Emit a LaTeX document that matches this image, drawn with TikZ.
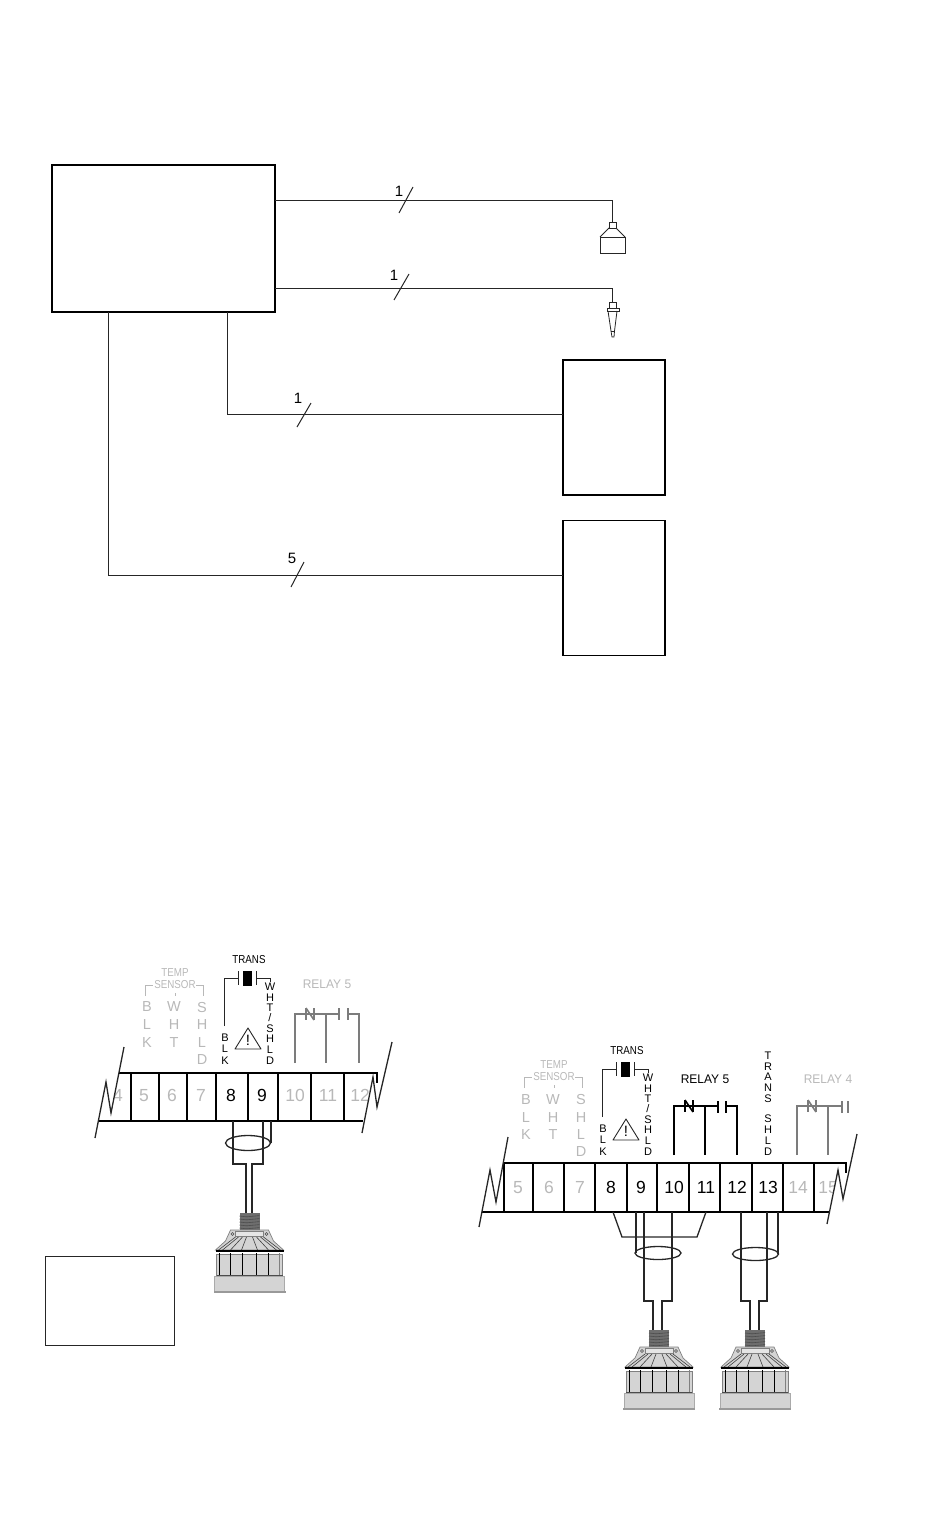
\documentclass[tikz,border=0pt]{standalone}
\usepackage{fontspec}
\setmainfont{Liberation Sans}
\definecolor{wirecol}{HTML}{262626}
\definecolor{fadetext}{HTML}{B8B8B8}
\definecolor{relaygray}{HTML}{7C7C7C}
\definecolor{headfill}{HTML}{D4D4D4}
\definecolor{threadfill}{HTML}{6E6E6E}
\tikzset{
    wire/.style={draw=wirecol, line width=1.0pt},
    lead/.style={draw=wirecol, line width=1.3pt},
    stripline/.style={draw=black, line width=1.6pt},
    mainbox/.style={draw=black, line width=2pt, minimum width=223pt, minimum height=147pt, inner sep=0pt},
    outbox/.style={draw=black, line width=1.6pt, minimum width=102pt, minimum height=135pt, inner sep=0pt},
    capbox/.style={draw=wirecol, line width=0.8pt, minimum width=7pt, minimum height=6pt, inner sep=0pt},
    countlabel/.style={inner sep=0pt, font=\fontsize{15}{15}\selectfont},
    digit/.style={inner sep=0pt, text height=12.6pt, text depth=0pt, font=\fontsize{17.5}{17.5}\selectfont},
    bigletter/.style={inner sep=0pt, text=fadetext, font=\fontsize{14.5}{14.5}\selectfont},
    smallletter/.style={inner sep=0pt, font=\fontsize{11}{11}\selectfont},
    headlabel/.style={inner sep=0pt, xscale=0.96, font=\fontsize{12.5}{12.5}\selectfont},
    tinylabel/.style={inner sep=0pt, xscale=0.85, font=\fontsize{11.5}{11.5}\selectfont},
    pics/tempgroup/.style={code={
        \node[tinylabel, text=fadetext] (title) at (0, 0) {TEMP};
        \node[tinylabel, text=fadetext] (sensor) at (0, 12) {SENSOR};
        \draw[fadetext, line width=0.8pt] (-30, 23) -- (-30, 12) -- (-22, 12);
        \draw[fadetext, line width=0.8pt] (21, 12) -- (28, 12) -- (28, 23);
        \draw[fadetext, line width=0.8pt] (0, 20) -- (0, 23);
        \foreach \ch/\yy in {B/34, L/52, K/69}
            \node[bigletter] (a\ch) at (-28, \yy) {\ch};
        \foreach \ch/\yy in {W/34, H/52, T/69}
            \node[bigletter] (b\ch) at (-1, \yy) {\ch};
        \foreach \ch/\yy in {S/34, H/52, L/69, D/86}
            \node[bigletter] (c\ch) at (27, \yy) {\ch};
    }},
    pics/transgroup/.style={code={
        \node[tinylabel] (title) at (0, -18) {TRANS};
        \draw[wirecol, line width=0.9pt] (-25, 48) -- (-25, 0) -- (-11, 0);
        \draw[wirecol, line width=0.9pt] (7, 0) -- (21, 0) -- (21, 4);
        \draw[wirecol, line width=0.9pt] (-11, -7) -- (-11, 7);
        \draw[wirecol, line width=0.9pt] (7, -7) -- (7, 7);
        \fill[black] (-6, -7.5) rectangle (3, 7.5);
        \foreach \ch/\yy in {B/60, L/71, K/83}
            \node[smallletter] (a\ch) at (-24, \yy) {\ch};
        \foreach \ch/\yy in {W/9, H/20, T/30, S/51, H/61, L/72, D/83}
            \node[smallletter] (b\yy) at (21, \yy) {\ch};
        \node[smallletter] (slash) at (21, 40) {/};
        % Warning sign
        \draw[wirecol, line width=0.9pt, line join=round] (-1, 50) -- (-14, 71) -- (12, 71) -- cycle;
        \node[inner sep=0pt, font=\fontsize{15}{15}\selectfont] (mark) at (-1, 62) {!};
    }},
    pics/relayfront/.style={code={
        \draw[line width=2pt] (0, 49) -- (0, 0) -- (44, 0);
        \draw[line width=2pt] (31, 0) -- (31, 49);
        \draw[line width=1.6pt] (11, -6) -- (11, 6) (19, -6) -- (19, 6);
        \draw[line width=1.6pt] (11, -6) -- (19, 6);
    }},
    pics/sensorhead/.style={code={
        % Thread
        \fill[threadfill] (-10, 0) rectangle (10, 17);
        \foreach \yy in {3, 6, 9, 12, 15}
            \draw[black!70, line width=0.6pt] (-10, \yy) -- (-3, \yy+0.8) -- (10, \yy-0.4);
        % Horn
        \draw[fill=headfill, draw=gray, line width=0.7pt] (-19, 17) -- (19, 17) -- (24, 28) -- (34, 37) -- (-34, 37) -- (-24, 28) -- cycle;
        \draw[fill=headfill!60, draw=gray, line width=0.6pt] (-14, 18) rectangle (14, 23);
        \foreach \xa/\xb in {-14/-31, -11/-27, -7/-19, -3/-8, 3/8, 7/19, 11/27, 14/31}
            \draw[black!75, line width=0.6pt] (\xa, 24) -- (\xb, 37);
        \draw[draw=black!70, line width=0.5pt] (-17, 21) circle (1.5);
        \draw[draw=black!70, line width=0.5pt] (17, 21) circle (1.5);
        % Body and ribs
        \draw[fill=headfill, draw=gray, line width=0.6pt] (-33, 41) rectangle (33, 62);
        \foreach \xx in {-30, -19, -7, 7, 19}
            \draw[black, line width=0.9pt] (\xx, 40) -- (\xx, 62);
        \draw[gray, line width=0.6pt] (30, 40) -- (30, 62);
        \draw[fill=headfill, draw=headfill!80!black, line width=0.5pt] (-35, 63) rectangle (35, 78);
        \draw[black!70, line width=0.7pt] (-33, 62.5) -- (33, 62.5);
        \fill[black!40] (-36, 78) rectangle (36, 79.5);
        % Plate over the body
        \draw[black, line width=2pt] (-34, 38) -- (34, 38);
    }},
}
\begin{document}
\begin{tikzpicture}[x=1pt, y=-1pt]
    \useasboundingbox (0, 0) rectangle (950, 1525);

    % Block diagram at the top
    \node[mainbox] (controller) at (163.5, 238.5) {};
    \node[outbox] (upperunit) at (614, 427.5) {};
    \node[outbox] (lowerunit) at (614, 588) {};

    \coordinate (taphorn) at (275, 201);
    \coordinate (tapprobe) at (275, 288);
    \coordinate (tapupper) at (227, 312);
    \coordinate (taplower) at (108, 312);
    \coordinate (upperin) at (563, 414);
    \coordinate (lowerin) at (563, 575);

    \node[capbox] (horncap) at (612.5, 225) {};
    \node[capbox] (probecap) at (612.5, 305) {};

    \draw[wire] (taphorn) -| (horncap.north);
    \draw[wire] (tapprobe) -| (probecap.north);
    \draw[wire] (tapupper) |- (upperin);
    \draw[wire] (taplower) |- (lowerin);

    % Slashes and wire counts
    \draw[wire] (399, 213) -- (413, 187);
    \draw[wire] (394, 300) -- (409, 274);
    \draw[wire] (297, 427) -- (311, 403);
    \draw[wire] (291, 587) -- (304, 562);
    \node[countlabel] (counthorn) at (399, 191) {1};
    \node[countlabel] (countprobe) at (394, 275) {1};
    \node[countlabel] (countupper) at (298, 398) {1};
    \node[countlabel] (countlower) at (292, 558) {5};

    % Small horn and probe
    \draw[wirecol, line width=0.9pt] (600, 237) rectangle (625, 253);
    \draw[wirecol, line width=0.9pt] (600, 237) -- (609, 228);
    \draw[wirecol, line width=0.9pt] (625, 237) -- (616, 228);
    \draw[wirecol, line width=0.9pt] (607, 308) rectangle (619, 311);
    \draw[wirecol, line width=0.8pt] (608, 311) -- (611, 331) -- (612, 337) -- (614, 337) -- (614.5, 331) -- (617, 311);
    \draw[wirecol, line width=0.6pt] (611, 331) -- (614.5, 331);

    % Empty box, lower left
    \node[draw=wirecol, line width=1pt, minimum width=129pt, minimum height=89pt, inner sep=0pt] (notebox) at (109.5, 1300.5) {};

    % Left terminal strip
    \foreach \n/\xx in {4/118, 5/144, 6/172, 7/201, 10/295, 11/328, 12/360}
        \node[digit, text=fadetext] (leftnum\n) at (\xx, 1095) {\n};
    \foreach \n/\xx in {8/231, 9/262}
        \node[digit] (leftnum\n) at (\xx, 1095) {\n};
    \fill[white] (111, 1113) -- (118, 1080) -- (100, 1080) -- (100, 1113) -- cycle;
    \fill[white] (366.5, 1110) -- (372.4, 1080) -- (385, 1080) -- (385, 1110) -- cycle;
    \draw[stripline] (119, 1073) -- (377, 1073) -- (377, 1083);
    \draw[stripline] (98, 1121) -- (363, 1121);
    \foreach \xx in {131, 159, 187, 216, 248, 278, 311, 344}
        \draw[stripline] (\xx, 1073) -- (\xx, 1121);
    \draw[lead] (95, 1138) -- (106, 1082) -- (111, 1113) -- (124, 1047);
    \draw[lead] (362, 1133) -- (373, 1077) -- (377, 1107) -- (392, 1042);

    \pic (lefttemp) at (175, 973) {tempgroup};
    \pic (lefttrans) at (249, 978) {transgroup};
    \node[headlabel, text=fadetext] (leftrelay) at (327, 984) {RELAY 5};
    \pic[color=relaygray] (leftcoil) at (295, 1014) {relayfront};
    \draw[relaygray, line width=1.6pt] (339, 1008) -- (339, 1020) (348, 1008) -- (348, 1020);
    \draw[relaygray, line width=2pt] (348, 1014) -- (359, 1014) -- (359, 1063);

    % Left wiring
    \draw[lead] (233, 1121) -- (233, 1164) -- (246, 1164) -- (246, 1213);
    \draw[lead] (263, 1121) -- (263, 1164) -- (252, 1164) -- (252, 1213);
    \draw[lead] (271, 1121) -- (271, 1143);
    \draw[lead] (248, 1143) ellipse (22.5 and 7.5);
    \pic (leftsensor) at (249.5, 1213) {sensorhead};

    % Right terminal strip
    \foreach \n/\xx in {5/518, 6/549, 7/580, 14/798, 15/828}
        \node[digit, text=fadetext] (rightnum\n) at (\xx, 1187) {\n};
    \foreach \n/\xx in {8/611, 9/641, 10/674, 11/706, 12/737, 13/768}
        \node[digit] (rightnum\n) at (\xx, 1187) {\n};
    \fill[white] (831.5, 1205) -- (838, 1172) -- (846, 1172) -- (846, 1205) -- cycle;
    \draw[stripline] (503, 1163) -- (846, 1163) -- (846, 1173);
    \draw[stripline] (482, 1212) -- (830, 1212);
    \foreach \xx in {504, 533, 564, 595, 627, 657, 689, 720, 752, 783, 814}
        \draw[stripline] (\xx, 1163) -- (\xx, 1212);
    \draw[lead] (479, 1227) -- (490, 1170) -- (496, 1202) -- (508, 1137);
    \draw[lead] (827, 1224) -- (838, 1170) -- (843, 1199) -- (857, 1134);

    \pic (righttemp) at (554, 1065) {tempgroup};
    \pic (righttrans) at (627, 1069) {transgroup};
    \node[headlabel] (relayfive) at (705, 1079) {RELAY 5};
    \node[headlabel, text=fadetext] (relayfour) at (828, 1079) {RELAY 4};

    \pic[color=black] (fivecoil) at (674, 1106) {relayfront};
    \draw[black, line width=1.6pt] (718, 1101) -- (718, 1113) (726, 1101) -- (726, 1113);
    \draw[black, line width=2pt] (726, 1106) -- (737, 1106) -- (737, 1155);

    \pic[color=relaygray] (fourcoil) at (797, 1106) {relayfront};
    \draw[relaygray, line width=1.6pt] (842, 1101) -- (842, 1113) (848, 1101) -- (848, 1113);

    % Shield label over terminal 13
    \foreach \ch/\yy in {T/1056, R/1067, A/1077, N/1088, S/1099, S/1119, H/1130, L/1141, D/1152}
        \node[smallletter] (shield\yy) at (768, \yy) {\ch};

    % Right wiring
    \draw[lead] (613, 1212) -- (622, 1237) -- (697, 1237) -- (706, 1212);
    \draw[lead] (636, 1212) -- (636, 1253);
    \draw[lead] (644, 1212) -- (644, 1301) -- (653, 1301) -- (653, 1330);
    \draw[lead] (672, 1212) -- (672, 1301) -- (662, 1301) -- (662, 1330);
    \draw[lead] (658, 1253) ellipse (23 and 6.5);
    \pic (midsensor) at (659, 1330) {sensorhead};

    \draw[lead] (741, 1212) -- (741, 1301) -- (750, 1301) -- (750, 1330);
    \draw[lead] (767, 1212) -- (767, 1301) -- (759, 1301) -- (759, 1330);
    \draw[lead] (778, 1212) -- (778, 1254);
    \draw[lead] (755.5, 1254) ellipse (23 and 6.5);
    \pic (endsensor) at (755, 1330) {sensorhead};
\end{tikzpicture}
\end{document}
